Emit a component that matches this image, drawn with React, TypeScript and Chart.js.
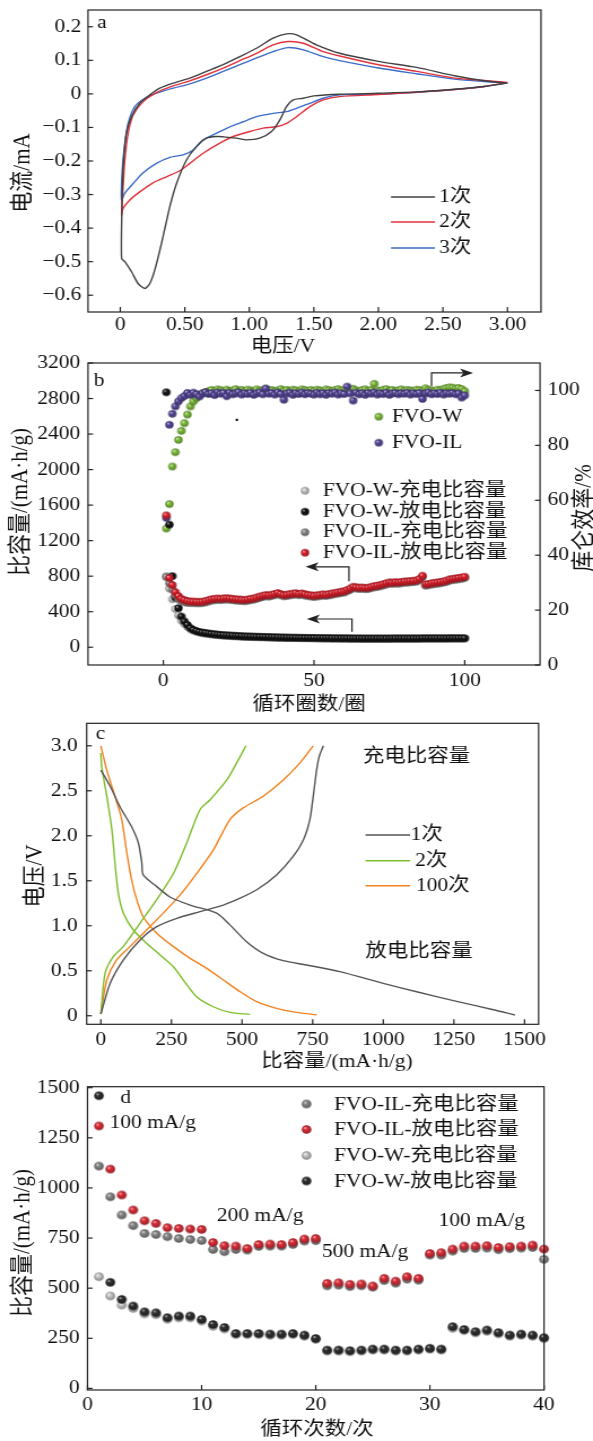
import React, { useEffect, useRef } from 'react';
import { Chart, registerables } from 'chart.js';
Chart.register(...registerables);

const IW = 525;
const PH = 1441;
const SX = 593 / IW;
const X = (p: number) => p / SX;
const FONT = "'Liberation Serif', 'Times New Roman', 'Noto Sans CJK SC', serif";
const INK = '#111111';

// ---------------- panel a : CV ----------------
const cvXTicks = [0, 0.5, 1, 1.5, 2, 2.5, 3];
const cvYTicks = [-0.6, -0.5, -0.4, -0.3, -0.2, -0.1, 0, 0.1, 0.2];
const cvNames = ['1次', '2次', '3次'];
const cv1V = [3.0, 2.82, 2.59, 2.3, 2.0, 1.7, 1.5, 1.417, 1.34, 1.288, 1.236, 1.172, 1.081, 0.978, 0.9, 0.8, 0.746, 0.668, 0.59, 0.513, 0.436, 0.384, 0.319, 0.267, 0.229, 0.19, 0.138, 0.087, 0.035, 0.01,
  0.014, 0.022, 0.048, 0.087, 0.151, 0.229, 0.306, 0.41, 0.54, 0.668, 0.797, 0.926, 1.056, 1.184, 1.288, 1.366, 1.52, 1.7, 2.0, 2.296, 2.59, 2.82, 3.0];
const cv1I = [0.032, 0.022, 0.014, 0.006, 0.002, -0.001, -0.006, -0.013, -0.018, -0.038, -0.078, -0.112, -0.132, -0.137, -0.132, -0.128, -0.127, -0.132, -0.157, -0.197, -0.267, -0.336, -0.446, -0.525, -0.565, -0.58, -0.565, -0.53, -0.5, -0.49,
  -0.316, -0.217, -0.117, -0.068, -0.028, -0.003, 0.017, 0.032, 0.047, 0.067, 0.087, 0.111, 0.136, 0.166, 0.179, 0.176, 0.146, 0.121, 0.097, 0.079, 0.054, 0.039, 0.032];
const cv2V = [3.0, 2.82, 2.59, 2.3, 2.0, 1.7, 1.572, 1.469, 1.366, 1.288, 1.21, 1.107, 1.004, 0.874, 0.771, 0.642, 0.539, 0.461, 0.358, 0.254, 0.151, 0.074, 0.022, 0.01,
  0.022, 0.035, 0.061, 0.1, 0.177, 0.28, 0.41, 0.539, 0.668, 0.797, 0.926, 1.056, 1.184, 1.3, 1.417, 1.572, 1.7, 2.0, 2.296, 2.59, 2.82, 3.0];
const cv2I = [0.034, 0.022, 0.013, 0.005, -0.002, -0.008, -0.018, -0.038, -0.068, -0.088, -0.098, -0.102, -0.112, -0.127, -0.147, -0.177, -0.207, -0.229, -0.247, -0.265, -0.292, -0.316, -0.341, -0.361,
  -0.277, -0.197, -0.117, -0.063, -0.023, 0.004, 0.024, 0.039, 0.057, 0.077, 0.099, 0.121, 0.146, 0.156, 0.151, 0.126, 0.113, 0.087, 0.067, 0.047, 0.04, 0.034];
const cv3V = [3.0, 2.82, 2.59, 2.3, 2.0, 1.7, 1.572, 1.469, 1.366, 1.288, 1.184, 1.056, 0.952, 0.849, 0.746, 0.642, 0.565, 0.487, 0.384, 0.28, 0.177, 0.1, 0.035, 0.01,
  0.014, 0.035, 0.061, 0.112, 0.19, 0.28, 0.41, 0.539, 0.668, 0.797, 0.926, 1.056, 1.184, 1.3, 1.417, 1.572, 1.7, 2.0, 2.296, 2.59, 2.82, 3.0];
const cv3I = [0.033, 0.022, 0.013, 0.005, -0.001, -0.003, -0.013, -0.028, -0.043, -0.053, -0.058, -0.068, -0.083, -0.098, -0.117, -0.137, -0.167, -0.182, -0.189, -0.207, -0.235, -0.267, -0.296, -0.316,
  -0.237, -0.147, -0.088, -0.038, -0.013, 0.002, 0.017, 0.03, 0.047, 0.067, 0.087, 0.107, 0.126, 0.138, 0.131, 0.111, 0.099, 0.077, 0.06, 0.044, 0.037, 0.033];

// ---------------- panel b : cycling ----------------
const cycleB = Array.from({ length: 100 }, (_, i) => i + 1);
const cycXTicksB = [0, 50, 100];
const capYTicksB = [0, 400, 800, 1200, 1600, 2000, 2400, 2800, 3200];
const ceYTicksB = [0, 20, 40, 60, 80, 100];
const ceW = [49.7, 58.6, 72.3, 77.5, 82.0, 85.3, 88.1, 91.2, 94.2, 96.0,
  97.2, 98.3, 99.0, 99.4, 99.8, 100.2, 99.6, 100.4, 100.1, 99.8,
  100.3, 99.7, 100.0, 100.5, 99.9, 100.2, 99.6, 100.3, 100.0, 99.8,
  100.4, 99.9, 100.1, 100.6, 99.8, 100.2, 99.7, 100.0, 100.5, 99.9,
  100.2, 99.8, 100.3, 100.0, 99.7, 100.4, 100.1, 99.9, 100.2, 99.8,
  100.3, 100.0, 99.6, 100.4, 100.1, 99.8, 100.2, 100.5, 99.9, 100.1,
  100.3, 99.8, 100.6, 100.0, 99.7, 100.2, 100.4, 99.9, 100.1, 102.4,
  100.0, 99.8, 100.3, 100.5, 99.9, 100.2, 99.7, 100.1, 100.4, 99.9,
  100.2, 100.0, 99.8, 100.3, 100.1, 99.9, 100.8, 100.2, 100.0, 99.8,
  100.3, 100.1, 100.6, 100.9, 101.1, 101.0, 100.7, 100.9, 100.5, 99.7];
const ceIL = [53.6, 87.5, 91.5, 94.2, 96.0, 97.2, 98.0, 99.1, 98.4, 99.2,
  98.6, 97.8, 98.9, 99.4, 98.7, 99.0, 98.3, 99.3, 98.8, 99.1,
  97.9, 99.2, 98.6, 98.9, 99.4, 98.5, 99.0, 98.7, 99.2, 98.4,
  98.9, 99.3, 98.6, 100.7, 98.8, 99.1, 98.5, 99.3, 98.7, 96.6,
  98.9, 99.2, 98.4, 99.0, 98.7, 99.3, 98.6, 99.1, 98.8, 98.5,
  99.2, 98.6, 99.0, 98.4, 99.1, 98.8, 99.3, 98.5, 99.0, 98.7,
  101.4, 98.9, 96.3, 99.2, 98.6, 99.0, 98.4, 99.1, 98.8, 99.3,
  98.5, 99.0, 98.7, 99.2, 98.4, 98.9, 99.1, 98.6, 99.0, 98.8,
  99.2, 98.5, 99.0, 98.7, 99.1, 96.9, 98.9, 99.3, 98.6, 99.0,
  98.7, 99.2, 98.5, 99.0, 98.8, 99.1, 98.6, 98.9, 97.4, 98.2];
const disW = [2870, 1380, 800, 560, 440, 345, 290, 250, 215, 195,
  182, 172, 165, 160, 155, 150, 146, 142, 139, 136,
  134, 132, 130, 128, 126, 124, 122, 121, 120, 119,
  118, 117, 116, 115, 114, 113, 112, 111, 110, 109,
  108, 108, 107, 107, 106, 106, 105, 105, 104, 104,
  103, 103, 102, 102, 102, 101, 101, 101, 100, 100,
  100, 99, 99, 99, 99, 98, 98, 98, 98, 98,
  98, 98, 98, 98, 98, 99, 99, 99, 99, 99,
  99, 99, 99, 99, 99, 100, 100, 100, 100, 100,
  100, 100, 100, 100, 101, 101, 101, 101, 101, 101];
const chgW = [800, 660, 540, 430, 360, 300, 262, 228, 203, 185,
  174, 165, 158, 153, 148, 144, 140, 137, 134, 131,
  129, 127, 125, 123, 121, 120, 118, 117, 116, 115,
  114, 113, 112, 111, 110, 109, 108, 107, 106, 106,
  105, 105, 104, 104, 103, 103, 102, 102, 101, 101,
  100, 100, 100, 99, 99, 99, 98, 98, 98, 97,
  97, 97, 97, 96, 96, 96, 96, 96, 96, 96,
  96, 96, 96, 96, 96, 96, 97, 97, 97, 97,
  97, 97, 97, 97, 97, 98, 98, 98, 98, 98,
  98, 98, 98, 98, 99, 99, 99, 99, 99, 99];
const disIL = [1485, 780, 700, 620, 575, 545, 530, 520, 515, 513,
  512, 510, 513, 520, 530, 540, 545, 548, 545, 550,
  552, 548, 545, 540, 538, 535, 532, 538, 545, 550,
  560, 570, 580, 588, 585, 592, 600, 610, 598, 588,
  592, 598, 604, 608, 600, 606, 596, 590, 585, 580,
  585, 590, 595, 592, 598, 605, 612, 618, 625, 630,
  645, 660, 681, 675, 670, 672, 668, 670, 680, 688,
  693, 700, 710, 720, 730, 728, 732, 730, 735, 740,
  742, 745, 748, 752, 770, 805, 707, 712, 720, 725,
  730, 735, 742, 750, 764, 770, 775, 780, 785, 793];
const chgIL = [790, 720, 650, 585, 540, 518, 506, 500, 498, 497,
  496, 495, 498, 505, 515, 525, 530, 533, 531, 536,
  538, 534, 531, 526, 524, 521, 518, 524, 531, 536,
  546, 556, 566, 574, 571, 578, 586, 596, 584, 574,
  578, 584, 590, 594, 586, 592, 582, 576, 571, 566,
  571, 576, 581, 578, 584, 591, 598, 604, 611, 616,
  631, 646, 667, 661, 656, 658, 654, 656, 666, 674,
  679, 686, 696, 706, 716, 714, 718, 716, 721, 726,
  728, 731, 734, 738, 756, 790, 693, 698, 706, 711,
  716, 721, 728, 736, 750, 756, 761, 766, 771, 779];
const strayB = [24.4, 2560];
const arrowCE = [[89, 101.5], [89, 106.4], [102.8, 106.4]];
const arrowIL = [[61.6, 744], [61.6, 905], [47.2, 905]];
const arrowW = [[62.6, 175], [62.6, 318], [47.6, 318]];
const namesB1 = ['FVO-W', 'FVO-IL'];
const namesB2 = ['FVO-W-充电比容量', 'FVO-W-放电比容量', 'FVO-IL-充电比容量', 'FVO-IL-放电比容量'];

// ---------------- panel c : charge/discharge ----------------
const gcdXTicks = [0, 250, 500, 750, 1000, 1250, 1500];
const gcdYTicks = [0, 0.5, 1, 1.5, 2, 2.5, 3];
const gcdNames = ['1次', '2次', '100次'];
const gcd1DisCap = [0, 33, 68, 109, 133, 145, 150, 198, 245, 316, 410, 457, 516, 575, 646, 728, 846, 1000, 1118, 1252, 1386, 1466];
const gcd1DisV = [2.73, 2.55, 2.32, 2.1, 1.92, 1.7, 1.565, 1.435, 1.32, 1.23, 1.14, 1.01, 0.823, 0.694, 0.612, 0.564, 0.49, 0.36, 0.267, 0.165, 0.07, 0.008];
const gcd1ChgCap = [0, 33, 80, 139, 198, 269, 351, 434, 493, 552, 622, 681, 717, 740, 752, 764, 773, 788];
const gcd1ChgV = [0.02, 0.36, 0.62, 0.842, 0.99, 1.083, 1.157, 1.23, 1.306, 1.4, 1.565, 1.77, 1.954, 2.18, 2.44, 2.73, 2.88, 3.0];
const gcd2DisCap = [0, 3, 21, 39, 50, 62, 80, 115, 162, 210, 257, 292, 339, 398, 457, 528];
const gcd2DisV = [2.92, 2.77, 2.44, 2.07, 1.7, 1.36, 1.14, 0.953, 0.805, 0.675, 0.545, 0.397, 0.211, 0.1, 0.038, 0.015];
const gcd2ChgCap = [0, 15, 44, 80, 139, 198, 257, 304, 351, 387, 446, 481, 514];
const gcd2ChgV = [0.02, 0.47, 0.656, 0.77, 1.03, 1.29, 1.58, 1.92, 2.29, 2.4, 2.62, 2.81, 3.0];
const gcd100DisCap = [0, 21, 50, 74, 92, 109, 127, 150, 198, 257, 316, 375, 434, 493, 552, 622, 693, 764];
const gcd100DisV = [3.0, 2.73, 2.44, 2.18, 1.81, 1.51, 1.29, 1.1, 0.917, 0.768, 0.638, 0.527, 0.397, 0.267, 0.156, 0.082, 0.038, 0.011];
const gcd100ChgCap = [0, 21, 56, 103, 162, 221, 280, 339, 398, 457, 504, 575, 646, 705, 752];
const gcd100ChgV = [0.02, 0.397, 0.62, 0.768, 0.953, 1.14, 1.34, 1.58, 1.84, 2.18, 2.31, 2.44, 2.62, 2.81, 3.0];

// ---------------- panel d : rate ----------------
const cycleD = Array.from({ length: 40 }, (_, i) => i + 1);
const rateXTicks = [0, 10, 20, 30, 40];
const rateYTicks = [0, 250, 500, 750, 1000, 1250, 1500];
const rateChgIL = [1109, 956, 865, 812, 773, 768, 757, 748, 743, 738,
  693, 682, 693, 690, 708, 710, 710, 718, 735, 737,
  512, 515, 508, 512, 505, 538, 525, 545, 540, 665,
  665, 685, 698, 698, 700, 692, 697, 700, 703, 644];
const rateDisIL = [1309, 1094, 965, 890, 836, 823, 802, 798, 795, 793,
  728, 712, 710, 698, 718, 720, 718, 728, 745, 748,
  524, 527, 519, 521, 511, 549, 535, 557, 549, 673,
  677, 695, 710, 710, 712, 703, 707, 710, 715, 695];
const rateChgW = [557, 461, 416, 399, 372, 368, 345, 352, 352, 336,
  310, 296, 268, 268, 268, 265, 265, 268, 260, 244,
  186, 186, 183, 186, 191, 191, 186, 186, 191, 195,
  191, 300, 288, 277, 285, 272, 260, 265, 260, 248];
const rateDisW = [1460, 529, 444, 411, 382, 377, 353, 361, 361, 344,
  319, 304, 274, 274, 274, 271, 271, 274, 266, 249,
  191, 191, 188, 191, 196, 196, 191, 191, 196, 200,
  196, 308, 294, 283, 291, 278, 266, 271, 266, 253];
const namesD = ['FVO-IL-充电比容量', 'FVO-IL-放电比容量', 'FVO-W-充电比容量', 'FVO-W-放电比容量'];
const rateLabels = ['100 mA/g', '200 mA/g', '500 mA/g', '100 mA/g'];

// ---------------- helpers ----------------
const pts = (xs: number[], ys: number[]) => xs.map((x, i) => ({ x, y: ys[i] }));

function mix(hex: string, t: number, to: number) {
  const n = parseInt(hex.slice(1), 16);
  const r = (n >> 16) & 255, g = (n >> 8) & 255, b = n & 255;
  const f = (c: number) => Math.round(c + (to - c) * t);
  return `rgb(${f(r)},${f(g)},${f(b)})`;
}

function sphere(color: string, r: number) {
  const c = document.createElement('canvas');
  const s = Math.ceil(2 * r + 2);
  c.width = s; c.height = s;
  const g = c.getContext('2d')!;
  const cx = s / 2, cy = s / 2;
  const gr = g.createRadialGradient(cx - r * 0.35, cy - r * 0.4, 0, cx, cy, r);
  gr.addColorStop(0, mix(color, 0.8, 255));
  gr.addColorStop(0.35, color);
  gr.addColorStop(1, mix(color, 0.35, 0));
  g.fillStyle = gr;
  g.beginPath(); g.arc(cx, cy, r, 0, Math.PI * 2); g.fill();
  return c;
}

function txt(ctx: any, s: string, x: number, y: number, o: any = {}) {
  ctx.save();
  ctx.translate(X(x), y);
  if (o.rot) ctx.rotate(o.rot);
  ctx.font = `${o.size ?? 19}px ${FONT}`;
  ctx.textAlign = o.align ?? 'center';
  ctx.textBaseline = 'middle';
  ctx.fillStyle = INK;
  ctx.fillText(s, 0, 0);
  ctx.restore();
}

function hline(ctx: any, x1: number, x2: number, y: number, color: string) {
  ctx.save();
  ctx.strokeStyle = color; ctx.lineWidth = 1.4;
  ctx.beginPath(); ctx.moveTo(X(x1), y); ctx.lineTo(X(x2), y); ctx.stroke();
  ctx.restore();
}

function img(ctx: any, im: HTMLCanvasElement, x: number, y: number) {
  ctx.drawImage(im, X(x) - im.width / 2, y - im.height / 2);
}

function drawArrow(ctx: any, p: number[][], xs: any, ys: any) {
  const P = p.map(([a, b]) => [xs.getPixelForValue(a), ys.getPixelForValue(b)]);
  const n = P.length;
  const dir = Math.sign(P[n - 1][0] - P[n - 2][0]);
  const hl = X(13), hw = 4.5;
  const [tx, ty] = P[n - 1];
  ctx.save();
  ctx.strokeStyle = '#222'; ctx.fillStyle = '#222'; ctx.lineWidth = 1.2;
  ctx.beginPath(); ctx.moveTo(P[0][0], P[0][1]);
  for (let i = 1; i < n - 1; i++) ctx.lineTo(P[i][0], P[i][1]);
  ctx.lineTo(tx - dir * hl * 0.7, ty); ctx.stroke();
  ctx.beginPath(); ctx.moveTo(tx, ty);
  ctx.lineTo(tx - dir * hl, ty - hw); ctx.lineTo(tx - dir * hl * 0.75, ty); ctx.lineTo(tx - dir * hl, ty + hw);
  ctx.closePath(); ctx.fill();
  ctx.restore();
}

const framePlugin = {
  id: 'frame',
  afterDraw(chart: any) {
    const { ctx, chartArea: a } = chart;
    ctx.save();
    ctx.strokeStyle = '#222';
    ctx.lineWidth = 1.2;
    ctx.strokeRect(a.left, a.top, a.right - a.left, a.bottom - a.top);
    Object.values(chart.scales).forEach((s: any) => {
      s.ticks.forEach((t: any) => {
        const p = s.getPixelForValue(t.value);
        ctx.beginPath();
        if (s.axis === 'x') { ctx.moveTo(p, a.bottom); ctx.lineTo(p, a.bottom - 5); }
        else if (s.position === 'left') { ctx.moveTo(a.left, p); ctx.lineTo(a.left + 4.5, p); }
        else { ctx.moveTo(a.right, p); ctx.lineTo(a.right - 4.5, p); }
        ctx.stroke();
      });
    });
    ctx.restore();
  },
};

function axis(position: string, min: number, max: number, ticks: number[], fmt: (v: number) => string, size: number, pad: number) {
  return {
    type: 'linear', position, min, max,
    grid: { display: false, drawTicks: false },
    border: { display: false },
    title: { display: false },
    ticks: {
      padding: pad, color: INK, font: { family: FONT, size: 19 }, autoSkip: false, maxRotation: 0, minRotation: 0,
      callback: (v: number) => fmt(v),
    },
    afterBuildTicks: (s: any) => { s.ticks = ticks.map((v) => ({ value: v })); },
    afterFit: (s: any) => {
      if (position === 'bottom') s.height = size; else s.width = size;
      s.paddingLeft = 0; s.paddingRight = 0; s.paddingTop = 0; s.paddingBottom = 0;
    },
  };
}

function opts(padding: any, scales: any) {
  return {
    responsive: false, animation: false, devicePixelRatio: 1, events: [],
    layout: { padding },
    plugins: { legend: { display: false }, tooltip: { enabled: false } },
    scales,
  };
}

const lineDs = (xs: number[], ys: number[], color: string) => ({
  data: pts(xs, ys), showLine: true, borderColor: color, borderWidth: 1.4, pointRadius: 0, tension: 0.25, fill: false, borderJoinStyle: 'round',
});
const dotDs = (xs: number[], ys: number[], im: HTMLCanvasElement, yAxisID = 'y') => ({
  data: pts(xs, ys), pointStyle: im, pointRadius: 4, showLine: false, yAxisID, clip: false,
});

const fmtMinus = (v: number) => (Math.abs(v) < 1e-9 ? '0' : (v < 0 ? '\u2212' : '') + Math.abs(v).toFixed(1));
const fmt2 = (v: number) => (v === 0 ? '0' : v.toFixed(2));
const fmt1 = (v: number) => (v === 0 ? '0' : v.toFixed(1));
const fmtInt = (v: number) => String(v);

// ---------------- charts ----------------
function makeA(cv: HTMLCanvasElement) {
  const colors = ['#414141', '#e0323c', '#3b6bc9'];
  return new Chart(cv, {
    type: 'scatter',
    data: { datasets: [lineDs(cv1V, cv1I, colors[0]), lineDs(cv2V, cv2I, colors[1]), lineDs(cv3V, cv3I, colors[2])] as any },
    options: opts({ left: 0, top: 10, right: IW - X(541), bottom: PH - 312 - 30 }, {
      x: axis('bottom', -0.25, 3.26, cvXTicks, fmt2, 30, 2),
      y: axis('left', -0.65, 0.25, cvYTicks, fmtMinus, X(88), 6),
    }) as any,
    plugins: [framePlugin, {
      id: 'decoA',
      afterDraw(chart: any) {
        const ctx = chart.ctx;
        txt(ctx, 'a', 102, 23);
        txt(ctx, '电流/mA', 22.7, 173, { rot: -Math.PI / 2, size: 21 });
        txt(ctx, '电压/V', 283, 347);
        [197, 222, 248].forEach((y, i) => {
          hline(ctx, 391, 435, y, colors[i]);
          txt(ctx, cvNames[i], 439, y, { align: 'left' });
        });
      },
    }],
  } as any);
}

function makeB(cv: HTMLCanvasElement) {
  const red = sphere('#e3222e', 3.7), gray = sphere('#8e8e8e', 3.7), black = sphere('#161616', 3.7),
    light = sphere('#cdcdcd', 3.7), purple = sphere('#5a4a9e', 3.7), green = sphere('#80c23c', 3.7);
  const lg = [light, black, gray, red];
  return new Chart(cv, {
    type: 'scatter',
    data: {
      datasets: [
        dotDs(cycleB, disIL, red), dotDs(cycleB, chgIL, gray), dotDs(cycleB, disW, black), dotDs(cycleB, chgW, light),
        dotDs(cycleB, ceIL, purple, 'y2'), dotDs(cycleB, ceW, green, 'y2'),
        { data: [{ x: strayB[0], y: strayB[1] }], pointStyle: 'rect', pointRadius: 1.5, backgroundColor: '#000', borderWidth: 0, showLine: false },
      ] as any,
    },
    options: opts({ left: 0, top: 363, right: 0, bottom: PH - 665 - 30 }, {
      x: axis('bottom', -25, 125, cycXTicksB, fmtInt, 30, 5),
      y: axis('left', -200, 3200, capYTicksB, fmtInt, X(88), 7),
      y2: axis('right', 0, 110, ceYTicksB, fmtInt, IW - X(540), 6.6),
    }) as any,
    plugins: [framePlugin, {
      id: 'decoB',
      afterDraw(chart: any) {
        const { ctx, scales } = chart;
        drawArrow(ctx, arrowCE, scales.x, scales.y2);
        drawArrow(ctx, arrowIL, scales.x, scales.y);
        drawArrow(ctx, arrowW, scales.x, scales.y);
        txt(ctx, 'b', 99, 381);
        txt(ctx, '比容量/(mA·h/g)', 21, 502, { rot: -Math.PI / 2, size: 21 });
        txt(ctx, '库仑效率/%', 585, 518, { rot: -Math.PI / 2, size: 21 });
        txt(ctx, '循环圈数/圈', 309, 705);
        [green, purple].forEach((im, i) => {
          const y = [416.7, 442.7][i];
          img(ctx, im, 378.8, y);
          txt(ctx, namesB1[i], 392, y, { align: 'left' });
        });
        [490.7, 511.7, 532.3, 552.7].forEach((y, i) => {
          img(ctx, lg[i], 305, y);
          txt(ctx, namesB2[i], 322.7, y, { align: 'left' });
        });
      },
    }],
  } as any);
}

function makeC(cv: HTMLCanvasElement) {
  const colors = ['#555555', '#7dbd2c', '#f2821e'];
  return new Chart(cv, {
    type: 'scatter',
    data: {
      datasets: [
        lineDs(gcd1DisCap, gcd1DisV, colors[0]), lineDs(gcd1ChgCap, gcd1ChgV, colors[0]),
        lineDs(gcd2DisCap, gcd2DisV, colors[1]), lineDs(gcd2ChgCap, gcd2ChgV, colors[1]),
        lineDs(gcd100DisCap, gcd100DisV, colors[2]), lineDs(gcd100ChgCap, gcd100ChgV, colors[2]),
      ] as any,
    },
    options: opts({ left: 0, top: 723.3, right: IW - X(538.6), bottom: PH - 1024.3 - 30 }, {
      x: axis('bottom', -50, 1550, gcdXTicks, fmtInt, 30, 4),
      y: axis('left', -0.095, 3.25, gcdYTicks, fmt1, X(86.7), 8),
    }) as any,
    plugins: [framePlugin, {
      id: 'decoC',
      afterDraw(chart: any) {
        const ctx = chart.ctx;
        txt(ctx, 'c', 100.4, 734);
        txt(ctx, '电压/V', 36, 876, { rot: -Math.PI / 2, size: 21 });
        txt(ctx, '比容量/(mA·h/g)', 337, 1062);
        txt(ctx, '充电比容量', 363, 757, { align: 'left' });
        txt(ctx, '放电比容量', 365.5, 952, { align: 'left' });
        const tx = [410.5, 415, 416];
        [835, 860.7, 885.7].forEach((y, i) => {
          hline(ctx, 365.5, 410, y, colors[i]);
          txt(ctx, gcdNames[i], tx[i], y, { align: 'left' });
        });
      },
    }],
  } as any);
}

function makeD(cv: HTMLCanvasElement) {
  const r = 4.3;
  const red = sphere('#e0303a', r), gray = sphere('#8a8a8a', r), dark = sphere('#303030', r), light = sphere('#cbcbcb', r);
  const lg = [gray, red, light, dark];
  return new Chart(cv, {
    type: 'scatter',
    data: {
      datasets: [dotDs(cycleD, rateDisIL, red), dotDs(cycleD, rateChgIL, gray), dotDs(cycleD, rateDisW, dark), dotDs(cycleD, rateChgW, light)] as any,
    },
    options: opts({ left: 0, top: 1086.7, right: IW - X(544), bottom: PH - 1390 - 30 }, {
      x: axis('bottom', 0, 40, rateXTicks, fmtInt, 30, 4),
      y: axis('left', -8, 1505, rateYTicks, fmtInt, X(87.5), 7),
    }) as any,
    plugins: [framePlugin, {
      id: 'decoD',
      afterDraw(chart: any) {
        const ctx = chart.ctx;
        txt(ctx, 'd', 125.8, 1098);
        txt(ctx, rateLabels[0], 109.5, 1123, { align: 'left' });
        txt(ctx, rateLabels[1], 217, 1216, { align: 'left' });
        txt(ctx, rateLabels[2], 322, 1252, { align: 'left' });
        txt(ctx, rateLabels[3], 438.6, 1221, { align: 'left' });
        txt(ctx, '比容量/(mA·h/g)', 22.7, 1243, { rot: -Math.PI / 2, size: 21 });
        txt(ctx, '循环次数/次', 317, 1430);
        [1104, 1129.5, 1155.5, 1181].forEach((y, i) => {
          img(ctx, lg[i], 306.5, y);
          txt(ctx, namesD[i], 334, y + 1, { align: 'left' });
        });
      },
    }],
  } as any);
}

export default function App() {
  const r1 = useRef<HTMLCanvasElement>(null);
  const r2 = useRef<HTMLCanvasElement>(null);
  const r3 = useRef<HTMLCanvasElement>(null);
  const r4 = useRef<HTMLCanvasElement>(null);
  useEffect(() => {
    const charts = [makeA(r1.current!), makeB(r2.current!), makeC(r3.current!), makeD(r4.current!)];
    return () => charts.forEach((c) => c.destroy());
  }, []);
  const st: any = { position: 'absolute', left: 0, top: 0, width: 593, height: PH };
  return (
    <div style={{ position: 'absolute', left: 0, top: 0, width: 593, height: PH, background: '#fff', overflow: 'hidden' }}>
      <canvas ref={r1} width={IW} height={PH} style={st} />
      <canvas ref={r2} width={IW} height={PH} style={st} />
      <canvas ref={r3} width={IW} height={PH} style={st} />
      <canvas ref={r4} width={IW} height={PH} style={st} />
    </div>
  );
}
